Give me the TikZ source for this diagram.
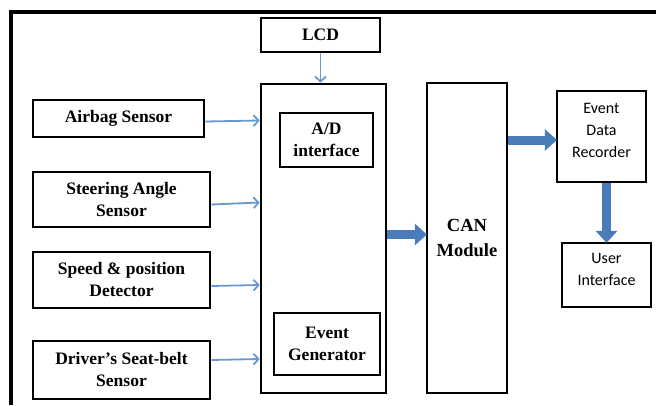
\documentclass[tikz,border=0pt]{standalone}
\usepackage{fontspec}
\setmainfont{Liberation Serif}
\newfontfamily\calib{Carlito}
\usetikzlibrary{arrows.meta}
\definecolor{thinblue}{RGB}{104,152,208}
\definecolor{boldblue}{RGB}{74,124,186}
\tikzset{
  box/.style={draw=black, line width=2.6pt, rectangle, inner sep=0pt, align=center,
    font=\fontsize{17.5}{22}\selectfont\bfseries},
  innerbox/.style={box, line width=1.6pt},
  sansbox/.style={box, line width=2.2pt, font=\calib\fontsize{16}{22}\selectfont, text depth=12pt},
  thinarrow/.style={draw=thinblue, line width=1.8pt, -{Straight Barb[length=5pt,width=11pt]}},
  boldarrow/.style={draw=boldblue, line width=9pt, -{Triangle[length=12pt,width=21pt]}, shorten >=-1pt},
}
\begin{document}
\begin{tikzpicture}[x=1pt, y=-1pt]
\useasboundingbox (0,0) rectangle (656,405);
% outer frame (left and top edges)
\draw[line width=4pt] (11,405) -- (11,12) -- (656,12);

% sensor inputs
\node[box, minimum width=171pt, minimum height=37pt] (airbag) at (118.5,118.5) {Airbag Sensor};
\node[box, minimum width=177pt, minimum height=55pt] (steer) at (121.5,199.5) {Steering Angle\\Sensor};
\node[box, minimum width=177pt, minimum height=56pt] (speed) at (121.5,280) {Speed \& position\\Detector};
\node[box, minimum width=177pt, minimum height=58pt] (belt) at (121.5,370) {Driver's Seat-belt\\Sensor};

% display
\node[box, minimum width=119pt, minimum height=34pt] (lcd) at (320.5,35) {LCD};

% processing unit with its two sub-blocks
\node[box, minimum width=125pt, minimum height=309pt] (proc) at (323.5,238.5) {};
\node[innerbox, minimum width=93pt, minimum height=54pt] (ad) at (326.5,140) {A/D\\interface};
\node[innerbox, minimum width=106pt, minimum height=62pt] (evgen) at (327,344) {Event\\Generator};

% bus and recording
\node[box, line width=2.2pt, minimum width=80pt, minimum height=310pt,
  font=\fontsize{18.5}{25}\selectfont\bfseries] (can) at (467,238) {CAN\\Module};
\node[sansbox, minimum width=89pt, minimum height=91pt] (edr) at (601.5,136.5) {Event\\Data\\Recorder};
\node[sansbox, minimum width=89pt, minimum height=64pt] (ui) at (606.5,275) {User\\Interface};

% signal connectors
\draw[thinarrow] ([yshift=-3pt]airbag.east) -- ([yshift=-2pt]airbag.east -| proc.west);
\draw[thinarrow] ([yshift=-5pt]steer.east) -- ([yshift=-3pt]steer.east -| proc.west);
\draw[thinarrow] ([yshift=-6pt]speed.east) -- ([yshift=-5pt]speed.east -| proc.west);
\draw[thinarrow] ([yshift=10pt]belt.east) -- ([yshift=11pt]belt.east -| proc.west);
\draw[thinarrow] (lcd.south) -- (lcd.south |- proc.north);

% data path
\draw[boldarrow] ([yshift=4pt]proc.east) -- ([yshift=4pt]proc.east -| can.west);
\draw[boldarrow] ([yshift=-3.5pt]edr.west -| can.east) -- ([yshift=-3.5pt]edr.west);
\draw[boldarrow] (edr.south -| ui.north) -- (ui.north);
\end{tikzpicture}
\end{document}
